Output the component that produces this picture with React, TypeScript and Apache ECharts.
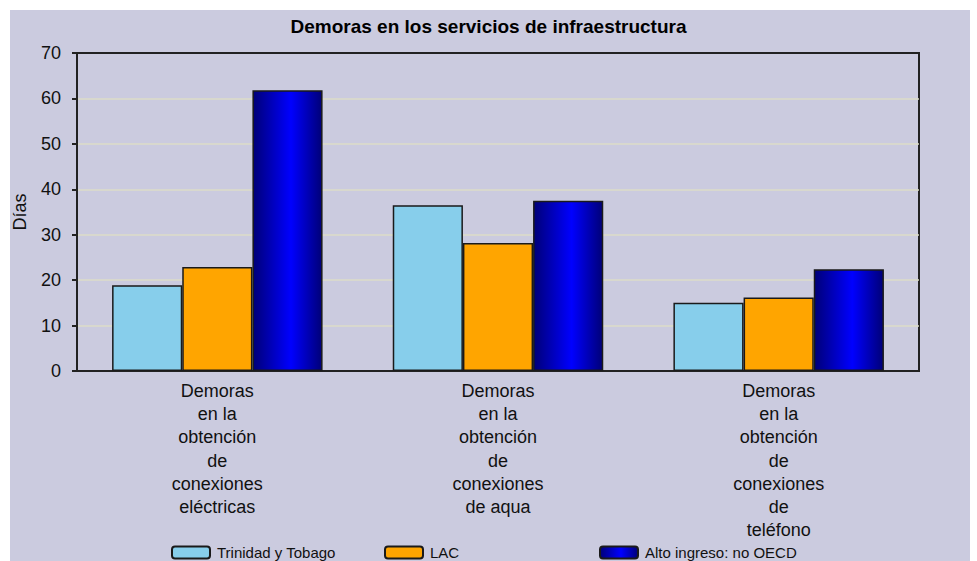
import React, { useEffect, useRef } from "react";
import * as echarts from "echarts";

const categories = [
  "Demoras\nen la\nobtención\nde\nconexiones\neléctricas",
  "Demoras\nen la\nobtención\nde\nconexiones\nde aqua",
  "Demoras\nen la\nobtención\nde\nconexiones\nde\nteléfono",
];
const seriesNames = ["Trinidad y Tobago", "LAC", "Alto ingreso: no OECD"];
const trinidadValues = [18.9, 36.5, 15.0];
const lacValues = [22.9, 28.2, 16.2];
const altoIngresoValues = [61.8, 37.5, 22.4];
const yTicks = { min: 0, max: 70, interval: 10 };

const FONT = "'Liberation Sans', Arial, sans-serif";

export default function App() {
  const ref = useRef<HTMLDivElement>(null);

  useEffect(() => {
    if (!ref.current) return;
    const chart = echarts.init(ref.current, null, { renderer: "svg" });
    const blueGrad = new echarts.graphic.LinearGradient(0, 0, 1, 0, [
      { offset: 0, color: "#000078" },
      { offset: 0.55, color: "#0000ff" },
      { offset: 1, color: "#000078" },
    ]);
    const colors = ["#87ceeb", "#ffa500", blueGrad];
    const values = [trinidadValues, lacValues, altoIngresoValues];
    const legendLefts = [166, 379, 594];

    chart.setOption({
      animation: false,
      backgroundColor: "#ffffff",
      textStyle: { fontFamily: FONT },
      graphic: [
        {
          type: "rect",
          z: -100,
          silent: true,
          shape: { x: 10, y: 10, width: 960, height: 551 },
          style: { fill: "#cbcbdf" },
        },
      ],
      title: {
        text: "Demoras en los servicios de infraestructura",
        left: "center",
        top: 12,
        textStyle: { fontFamily: FONT, fontSize: 19, fontWeight: "bold", color: "#000" },
      },
      legend: seriesNames.map((n, i) => ({
        data: [n],
        left: legendLefts[i],
        top: 540,
        itemWidth: 38,
        itemHeight: 12,
        itemGap: 8,
        selectedMode: false,
        textStyle: { fontFamily: FONT, fontSize: 15, color: "#111", padding: [0, 0, 0, 2] },
      })),
      grid: {
        left: 77,
        top: 53,
        right: 58,
        bottom: 190,
        show: true,
        backgroundColor: "transparent",
        borderColor: "#222",
        borderWidth: 2,
      },
      xAxis: {
        type: "category",
        data: categories,
        axisLine: { lineStyle: { color: "#222", width: 2 } },
        axisTick: { show: false },
        axisLabel: {
          fontFamily: FONT,
          fontSize: 18,
          lineHeight: 23.3,
          color: "#111",
          margin: 8,
          interval: 0,
          align: "center",
        },
      },
      yAxis: {
        type: "value",
        min: yTicks.min,
        max: yTicks.max,
        interval: yTicks.interval,
        name: "Días",
        nameLocation: "middle",
        nameRotate: 90,
        nameGap: 48,
        nameTextStyle: { fontFamily: FONT, fontSize: 18, color: "#111" },
        axisLine: { show: true, lineStyle: { color: "#222", width: 2 } },
        axisTick: { show: true, length: 5, lineStyle: { color: "#222", width: 2 } },
        axisLabel: { fontFamily: FONT, fontSize: 18, color: "#111", margin: 16 },
        splitLine: {
          show: true,
          showMaxLine: false,
          lineStyle: { color: "#dcdcc8", width: 1.5 },
        },
      },
      series: seriesNames.map((n, i) => ({
        name: n,
        type: "bar",
        data: values[i],
        barGap: "0%",
        barCategoryGap: "25%",
        itemStyle: { color: colors[i], borderColor: "#1a1a1a", borderWidth: 1.5 },
      })),
    });
    return () => chart.dispose();
  }, []);

  return (
    <div
      ref={ref}
      style={{ position: "absolute", left: 0, top: 0, width: 977, height: 561 }}
    />
  );
}
